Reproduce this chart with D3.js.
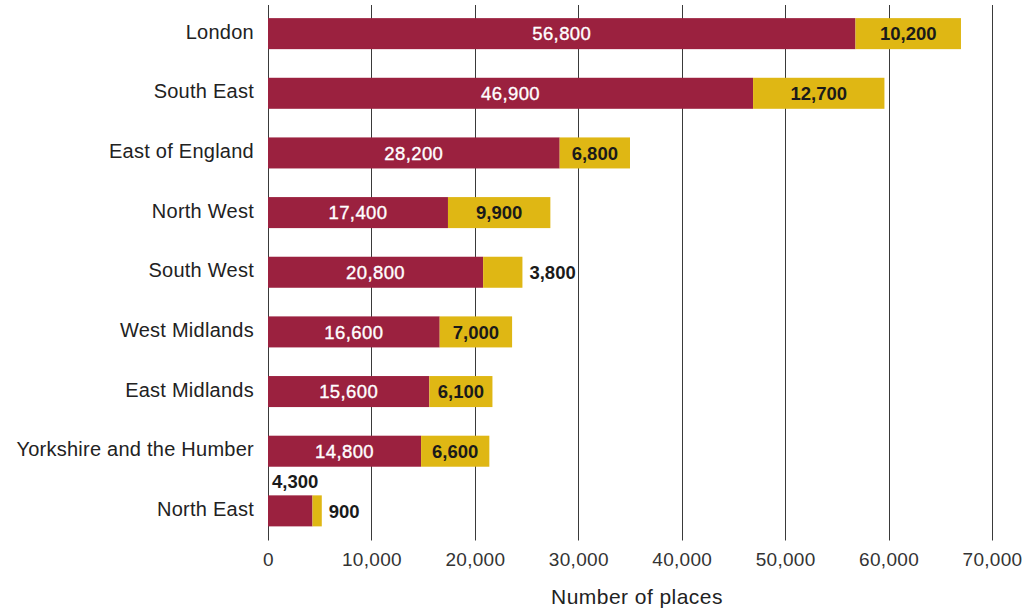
<!DOCTYPE html>
<html>
<head>
<meta charset="utf-8">
<script src="https://cdn.jsdelivr.net/npm/d3@7"></script>
<style>
  html, body { margin: 0; padding: 0; background: #fff; }
  svg { display: block; font-family: "Liberation Sans", Arial, Helvetica, sans-serif; }
</style>
</head>
<body>
<svg id="chart" width="1032" height="610"></svg>
<script>
// Regions, in display order (top to bottom)
const regions = [
  "London", "South East", "East of England", "North West", "South West",
  "West Midlands", "East Midlands", "Yorkshire and the Humber", "North East"
];
// First (maroon) segment of each bar
const primaryPlaces = [56800, 46900, 28200, 17400, 20800, 16600, 15600, 14800, 4300];
// Second (yellow) segment of each bar
const secondaryPlaces = [10200, 12700, 6800, 9900, 3800, 7000, 6100, 6600, 900];
// Axis ticks
const tickValues = [0, 10000, 20000, 30000, 40000, 50000, 60000, 70000];
const axisTitle = "Number of places";

(function drawChart() {
  const colors = { primary: "#9b213f", secondary: "#dfb714", grid: "#3a3a3a", text: "#1a1a1a" };

  const svg = d3.select("#chart");
  const plotLeft = 268, plotRight = 992, plotTop = 5, plotBottom = 539.5;

  const x = d3.scaleLinear().domain([0, 70000]).range([plotLeft, plotRight]);
  const y = d3.scaleBand().domain(regions).range([plotTop, plotBottom])
    .paddingInner(0.48).paddingOuter(0.22);

  const fmt = d3.format(",");

  // Vertical gridlines (drawn first so bars sit on top)
  svg.append("g")
    .selectAll("line")
    .data(tickValues)
    .join("line")
    .attr("x1", d => Math.round(x(d)) + 0.5)
    .attr("x2", d => Math.round(x(d)) + 0.5)
    .attr("y1", plotTop)
    .attr("y2", plotBottom + 1)
    .attr("stroke", colors.grid)
    .attr("stroke-width", 1);

  // X axis tick labels
  const xAxis = d3.axisBottom(x).tickValues(tickValues).tickFormat(fmt).tickSize(0).tickPadding(0);
  const gx = svg.append("g").attr("transform", `translate(0, ${552})`).call(xAxis);
  gx.select(".domain").remove();
  gx.selectAll("text")
    .attr("font-size", 19)
    .attr("font-family", "Liberation Sans, Arial, sans-serif")
    .attr("fill", "#333")
    .attr("dy", "0.75em")
    .attr("letter-spacing", 0.3);

  // Axis title
  svg.append("text")
    .attr("x", 637)
    .attr("y", 604)
    .attr("text-anchor", "middle")
    .attr("font-size", 21)
    .attr("letter-spacing", 0.45)
    .attr("fill", "#222")
    .text(axisTitle);

  // Y axis category labels
  const yAxis = d3.axisLeft(y).tickSize(0).tickPadding(14);
  const gy = svg.append("g").attr("transform", `translate(${plotLeft}, 0)`).call(yAxis);
  gy.select(".domain").remove();
  gy.selectAll("text")
    .attr("font-size", 20)
    .attr("font-family", "Liberation Sans, Arial, sans-serif")
    .attr("fill", "#222")
    .attr("dy", "0.25em")
    .attr("letter-spacing", 0.25);

  const rows = regions.map((r, i) => ({ region: r, a: primaryPlaces[i], b: secondaryPlaces[i] }));

  // Stacked bars
  const gBars = svg.append("g");
  gBars.selectAll("rect.primary")
    .data(rows)
    .join("rect")
    .attr("class", "primary")
    .attr("x", x(0))
    .attr("y", d => y(d.region))
    .attr("width", d => x(d.a) - x(0))
    .attr("height", y.bandwidth())
    .attr("fill", colors.primary);

  gBars.selectAll("rect.secondary")
    .data(rows)
    .join("rect")
    .attr("class", "secondary")
    .attr("x", d => x(d.a))
    .attr("y", d => y(d.region))
    .attr("width", d => x(d.a + d.b) - x(d.a))
    .attr("height", y.bandwidth())
    .attr("fill", colors.secondary);

  // Value labels: inside the segment when it fits, otherwise outside
  const labelSize = 18.5;
  const minInside = 58;
  const gLabels = svg.append("g").attr("font-size", labelSize);

  rows.forEach(d => {
    const cy = y(d.region) + y.bandwidth() / 2;
    const wA = x(d.a) - x(0);
    const wB = x(d.a + d.b) - x(d.a);

    if (wA >= minInside) {
      gLabels.append("text")
        .attr("x", (x(0) + x(d.a)) / 2)
        .attr("y", cy)
        .attr("dy", "0.36em")
        .attr("text-anchor", "middle")
        .attr("fill", "#fff")
        .attr("stroke", "#fff")
        .attr("stroke-width", 0.35)
        .attr("letter-spacing", 0.4)
        .text(fmt(d.a));
    } else {
      gLabels.append("text")
        .attr("x", x(0) + 4)
        .attr("y", y(d.region) - 7)
        .attr("text-anchor", "start")
        .attr("font-weight", "bold")
        .attr("fill", colors.text)
        .text(fmt(d.a));
    }

    if (wB >= minInside) {
      gLabels.append("text")
        .attr("x", (x(d.a) + x(d.a + d.b)) / 2)
        .attr("y", cy)
        .attr("dy", "0.36em")
        .attr("text-anchor", "middle")
        .attr("font-weight", "bold")
        .attr("fill", colors.text)
        .text(fmt(d.b));
    } else {
      gLabels.append("text")
        .attr("x", x(d.a + d.b) + 7)
        .attr("y", cy)
        .attr("dy", "0.36em")
        .attr("text-anchor", "start")
        .attr("font-weight", "bold")
        .attr("fill", colors.text)
        .text(fmt(d.b));
    }
  });
})();
</script>
</body>
</html>
